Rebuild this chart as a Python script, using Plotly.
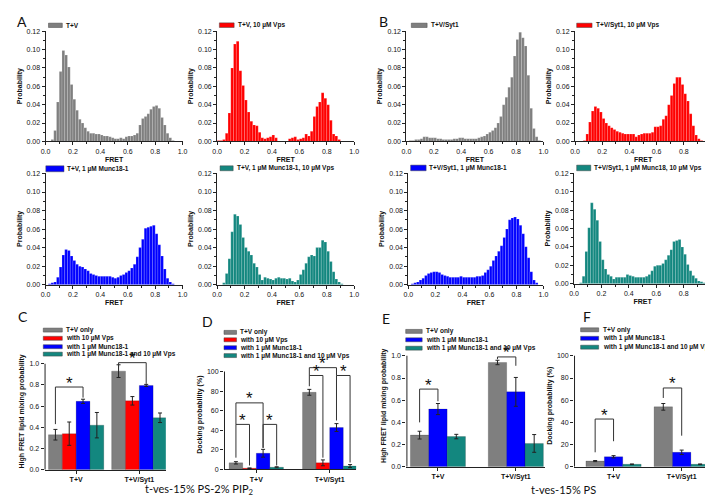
import plotly.graph_objects as go

W, H = 713, 497

# ---------------- data ----------------
fret_centers = [round(0.01 + 0.02 * i, 2) for i in range(50)]

p_TV = [0, 0, 0.002, 0.012, 0.043, 0.076, 0.099, 0.094, 0.081, 0.062,
        0.046, 0.034, 0.024, 0.020, 0.015, 0.011, 0.009, 0.009, 0.008, 0.008,
        0.007, 0.006, 0.006, 0.005, 0.004, 0.003, 0.003, 0.004, 0.003, 0.005,
        0.006, 0.006, 0.007, 0.009, 0.018, 0.025, 0.027, 0.030, 0.035, 0.038,
        0.039, 0.036, 0.026, 0.018, 0.009, 0.004, 0.001, 0, 0, 0]
p_TV_Vps = [0.001, 0.001, 0.002, 0.009, 0.031, 0.080, 0.106, 0.109, 0.077, 0.061,
            0.045, 0.032, 0.022, 0.018, 0.017, 0.010, 0.004, 0.003, 0.004, 0.005,
            0.007, 0.004, 0, 0, 0, 0, 0.003, 0.004, 0.005, 0.002,
            0.003, 0.004, 0.008, 0.006, 0.011, 0.027, 0.038, 0.043, 0.053, 0.047,
            0.040, 0.023, 0.008, 0.006, 0.002, 0, 0, 0, 0, 0]
p_TVSyt1 = [0, 0.001, 0.001, 0.002, 0.002, 0.003, 0.005, 0.005, 0.004, 0.004,
            0.004, 0.003, 0.003, 0.002, 0.002, 0.002, 0.002, 0.003, 0.003, 0.004,
            0.004, 0.003, 0.003, 0.003, 0.003, 0.003, 0.004, 0.005, 0.006, 0.008,
            0.010, 0.012, 0.015, 0.020, 0.027, 0.040, 0.048, 0.059, 0.070, 0.093,
            0.111, 0.119, 0.113, 0.104, 0.072, 0.036, 0.014, 0.005, 0.001, 0]
p_TVSyt1_Vps = [0, 0, 0, 0.001, 0.008, 0.021, 0.033, 0.038, 0.036, 0.032,
                0.025, 0.020, 0.017, 0.015, 0.013, 0.011, 0.010, 0.009, 0.008, 0.008,
                0.008, 0.008, 0.005, 0.007, 0.008, 0.009, 0.009, 0.009, 0.010, 0.016,
                0.016, 0.017, 0.024, 0.028, 0.040, 0.050, 0.063, 0.070, 0.070, 0.062,
                0.052, 0.044, 0.030, 0.017, 0.007, 0.003, 0.001, 0, 0, 0]
p_TV_M = [0, 0.001, 0.002, 0.003, 0.008, 0.019, 0.032, 0.038, 0.037, 0.031,
          0.026, 0.022, 0.020, 0.019, 0.017, 0.015, 0.012, 0.011, 0.010, 0.009,
          0.009, 0.009, 0.009, 0.009, 0.008, 0.007, 0.008, 0.010, 0.011, 0.013,
          0.015, 0.018, 0.022, 0.030, 0.040, 0.049, 0.061, 0.062, 0.063, 0.064,
          0.055, 0.043, 0.031, 0.017, 0.007, 0.003, 0.001, 0, 0, 0]
p_TV_M_Vps = [0, 0, 0.002, 0.012, 0.028, 0.057, 0.076, 0.074, 0.065, 0.051,
              0.040, 0.036, 0.032, 0.023, 0.019, 0.011, 0.005, 0.008, 0.007, 0.006,
              0.005, 0.007, 0.008, 0.007, 0.007, 0.006, 0.007, 0.004, 0.003, 0.005,
              0.011, 0.016, 0.023, 0.030, 0.032, 0.031, 0.040, 0.040, 0.048, 0.046,
              0.036, 0.025, 0.014, 0.006, 0.003, 0.001, 0, 0, 0, 0]
p_TVSyt1_M = [0, 0.001, 0.002, 0.003, 0.005, 0.007, 0.010, 0.012, 0.013, 0.014,
              0.014, 0.013, 0.011, 0.010, 0.009, 0.008, 0.008, 0.008, 0.008, 0.009,
              0.008, 0.008, 0.008, 0.008, 0.008, 0.009, 0.009, 0.010, 0.013, 0.016,
              0.020, 0.026, 0.031, 0.036, 0.042, 0.051, 0.060, 0.070, 0.072, 0.073,
              0.071, 0.064, 0.055, 0.041, 0.029, 0.014, 0.005, 0.002, 0, 0]
p_TVSyt1_M_Vps = [0, 0, 0.001, 0.008, 0.035, 0.061, 0.088, 0.081, 0.069, 0.046,
                  0.026, 0.016, 0.010, 0.008, 0.005, 0.007, 0.007, 0.007, 0.007, 0.010,
                  0.009, 0.008, 0.007, 0.007, 0.007, 0.007, 0.008, 0.010, 0.014, 0.019,
                  0.020, 0.020, 0.022, 0.026, 0.031, 0.037, 0.046, 0.047, 0.048, 0.040,
                  0.032, 0.021, 0.014, 0.009, 0.006, 0.003, 0.002, 0.001, 0.002, 0.001]

groups = ["T+V", "T+V/Syt1"]

C_only = [0.33, 0.93];      C_only_err = [0.05, 0.06]
C_vps = [0.34, 0.65];       C_vps_err = [0.11, 0.04]
C_munc = [0.645, 0.795];    C_munc_err = [0.02, 0.01]
C_munc_vps = [0.42, 0.49];  C_munc_vps_err = [0.12, 0.045]

D_only = [6.7, 78.8];       D_only_err = [1.2, 3.0]
D_vps = [1.2, 6.7];         D_vps_err = [0.3, 3.0]
D_munc = [16.5, 42.8];      D_munc_err = [4.0, 4.0]
D_munc_vps = [2.2, 3.4];    D_munc_vps_err = [0.5, 1.5]

E_only = [0.285, 0.94];     E_only_err = [0.035, 0.02]
E_munc = [0.52, 0.675];     E_munc_err = [0.05, 0.13]
E_munc_vps = [0.272, 0.21]; E_munc_vps_err = [0.02, 0.08]

F_only = [5.1, 54.0];       F_only_err = [0.5, 3.0]
F_munc = [9.0, 13.0];       F_munc_err = [1.0, 2.0]
F_munc_vps = [2.2, 2.2];    F_munc_vps_err = [0.3, 0.3]

# brackets: (group, bar_i, bar_j, top, leg_i_end, leg_j_end)
C_brackets = [(0, 0, 2, 0.78, 0.43, 0.68), (1, 0, 2, 1.01, 0.97, 0.81)]
D_brackets = [(0, 0, 1, 46, 12, 4), (0, 2, 3, 46, 22, 4), (0, 0, 2, 68, 46, 22),
              (1, 0, 1, 96, 85, 12), (1, 2, 3, 96, 50, 7), (1, 0, 2, 104, 96, 96)]
E_brackets = [(0, 0, 1, 0.70, 0.40, 0.59), (1, 0, 1, 0.99, 0.97, 0.91)]
F_brackets = [(0, 0, 1, 43, 13, 23), (1, 0, 1, 71, 62, 28)]

# ---------------- style ----------------
GRAY, RED, BLUE, TEAL = "#7f7f7f", "#ff0000", "#0000ff", "#13877f"
FONT = "Arial, Liberation Sans, sans-serif"
CAPFONT = "Lato, Open Sans, sans-serif"
tickfont = dict(family=FONT, size=7, color="#111")
titlefont = dict(family=FONT, size=7, color="#111")

fig = go.Figure()
lay = {}
shapes = []
annos = []


def ids(k):
    s = "" if k == 1 else str(k)
    return "x" + s, "y" + s, "xaxis" + s, "yaxis" + s


def dom_x(a, b):
    return [a / W, b / W]


def dom_y(top, bottom):
    return [1 - bottom / H, 1 - top / H]


def base_axis():
    return dict(showgrid=False, zeroline=False, showline=True, linecolor="#222",
                linewidth=1, ticks="outside", ticklen=3, tickwidth=1,
                tickcolor="#222", tickfont=tickfont)


def swatch(x0, x1, y0, y1, color):
    shapes.append(dict(type="rect", xref="paper", yref="paper",
                       x0=x0 / W, x1=x1 / W, y0=1 - y1 / H, y1=1 - y0 / H,
                       fillcolor=color, line=dict(width=0.5, color="#444")))


def label(x, y, text, size=6.5):
    annos.append(dict(xref="paper", yref="paper", x=x / W, y=1 - y / H,
                      text="<b>" + text + "</b>", showarrow=False,
                      xanchor="left", yanchor="middle",
                      font=dict(family=FONT, size=size, color="#111")))


# ---------------- histograms ----------------
hist_panels = [
    (p_TV, GRAY, "T+V", (33, 172, 20, 132), (36, 50, 12.3, 16.7), 52),
    (p_TV_Vps, RED, "T+V, 10 µM Vps", (207, 346, 20, 132), (209.3, 224.3, 12, 16.7), 226),
    (p_TVSyt1, GRAY, "T+V/Syt1", (399, 538, 20, 132), (404, 420, 12.3, 16.7), 421.5),
    (p_TVSyt1_Vps, RED, "T+V/Syt1, 10 µM Vps", (570, 708, 20, 132), (571.7, 587.3, 12.3, 16.7), 589),
    (p_TV_M, BLUE, "T+V, 1 µM Munc18-1", (33, 172, 164, 277), (33.3, 51.7, 156.7, 162.7), 53),
    (p_TV_M_Vps, TEAL, "T+V, 1 µM Munc18-1, 10 µM Vps", (207, 346, 164, 277), (210, 223.3, 156.7, 161.7), 225),
    (p_TVSyt1_M, BLUE, "T+V/Syt1, 1 µM Munc18-1", (401, 538, 164, 277), (403.3, 419, 156, 161.7), 419.5),
    (p_TVSyt1_M_Vps, TEAL, "T+V/Syt1, 1 µM Munc18, 10 µM Vps", (569, 708, 164, 276), (571.7, 586, 156, 161.7), 587.5),
]

k = 0
for vals, color, name, (xl, xr, yt, yb), sw, tx in hist_panels:
    k += 1
    xid, yid, xn, yn = ids(k)
    fig.add_trace(go.Bar(x=fret_centers, y=vals, width=0.02, xaxis=xid, yaxis=yid,
                         marker=dict(color=color, line=dict(color="rgba(255,255,255,0.55)", width=0.3)),
                         showlegend=False, hoverinfo="skip"))
    ax = base_axis()
    ax.update(domain=dom_x(xl, xr), range=[0, 1.0], anchor=yid, tick0=0, dtick=0.2,
              tickformat=".1f",
              minor=dict(tick0=0, dtick=0.1, ticks="outside", ticklen=2, tickcolor="#222"),
              title=dict(text="<b>FRET</b>", font=titlefont, standoff=3))
    ay = base_axis()
    ay.update(domain=dom_y(yt, yb), range=[0, 0.1205], anchor=xid, tick0=0, dtick=0.02,
              tickformat=".2f",
              minor=dict(tick0=0, dtick=0.01, ticks="outside", ticklen=2, tickcolor="#222"),
              title=dict(text="<b>Probability</b>", font=titlefont, standoff=3))
    lay[xn] = ax
    lay[yn] = ay
    swatch(sw[0], sw[1], sw[2], sw[3], color)
    label(tx, (sw[2] + sw[3]) / 2, name)

# ---------------- bar charts ----------------
bar_panels = [
    dict(series=[(C_only, C_only_err, GRAY, "T+V only"),
                 (C_vps, C_vps_err, RED, "with 10 µM Vps"),
                 (C_munc, C_munc_err, BLUE, "with 1 µM Munc18-1"),
                 (C_munc_vps, C_munc_vps_err, TEAL, "with 1 µM Munc18-1 and 10 µM Vps")],
         dom=(32, 155, 346.3, 464.3), xr=[-0.5, 1.42], yr=[0, 1.1], ytop=1.0, dtick=0.2,
         fmt=".1f", title="High FRET lipid mixing probability", gw=0.875,
         leg=(30.7, 50, [323, 331.3, 339.8, 347.3], 52), brackets=C_brackets),
    dict(series=[(D_only, D_only_err, GRAY, "T+V only"),
                 (D_vps, D_vps_err, RED, "with 10 µM Vps"),
                 (D_munc, D_munc_err, BLUE, "with 1 µM Munc18-1"),
                 (D_munc_vps, D_munc_vps_err, TEAL, "with 1 µM Munc18-1 and 10 µM Vps")],
         dom=(214, 348, 353.1, 464), xr=[-0.44, 1.36], yr=[0, 112], ytop=100, dtick=20,
         fmt="d", title="Docking probability (%)", gw=0.74,
         leg=(214, 226.7, [325.3, 332.8, 340.8, 348.8], 228.5), brackets=D_brackets),
    dict(series=[(E_only, E_only_err, GRAY, "T+V only"),
                 (E_munc, E_munc_err, BLUE, "with 1 µM Munc18-1"),
                 (E_munc_vps, E_munc_vps_err, TEAL, "with 1 µM Munc18-1 and 10 µM Vps")],
         dom=(399, 540, 337.8, 461.3), xr=[-0.405, 1.38], yr=[0, 1.1], ytop=1.0, dtick=0.2,
         fmt=".1f", title="High FRET lipid mixing probability", gw=0.707,
         leg=(398.3, 415, [324.3, 332.8, 341.3], 417), brackets=E_brackets),
    dict(series=[(F_only, F_only_err, GRAY, "T+V only"),
                 (F_munc, F_munc_err, BLUE, "with 1 µM Munc18-1"),
                 (F_munc_vps, F_munc_vps_err, TEAL, "with 1 µM Munc18-1 and 10 µM Vps")],
         dom=(569, 710, 337.8, 461.3), xr=[-0.58, 1.46], yr=[0, 110], ytop=100, dtick=20,
         fmt="d", title="Docking probability (%)", gw=0.81,
         leg=(575.7, 594, [322.7, 331.3, 340.3], 596), brackets=F_brackets),
]

for p in bar_panels:
    k += 1
    xid, yid, xn, yn = ids(k)
    n = len(p["series"])
    bw = p["gw"] / n
    for i, (vals, errs, color, name) in enumerate(p["series"]):
        fig.add_trace(go.Bar(x=groups, y=vals, width=bw, offset=-p["gw"] / 2 + i * bw,
                             xaxis=xid, yaxis=yid,
                             marker=dict(color=color, line=dict(color="rgba(0,0,0,0.35)", width=0.5)),
                             error_y=dict(type="data", array=errs, color="#222", thickness=1, width=2),
                             showlegend=False, hoverinfo="skip"))
        lx0, lx1, lys, ltx = p["leg"]
        swatch(lx0, lx1, lys[i] - 2.0, lys[i] + 2.0, color)
        label(ltx, lys[i], name)
    xl, xr, yt, yb = p["dom"]
    ax = base_axis()
    ax.update(domain=dom_x(xl, xr), range=p["xr"], anchor=yid, type="category",
              tickfont=dict(family=FONT, size=7, color="#111", weight="bold"))
    ay = base_axis()
    ay.update(domain=dom_y(yt, yb), range=p["yr"], anchor=xid, tick0=0, dtick=p["dtick"],
              tickformat=p["fmt"], showline=False,
              title=dict(text="<b>" + p["title"] + "</b>", font=titlefont, standoff=3))
    lay[xn] = ax
    lay[yn] = ay
    # y axis line only up to the last labelled tick
    shapes.append(dict(type="line", xref=xid, yref=yid, x0=p["xr"][0], x1=p["xr"][0],
                       y0=0, y1=p["ytop"], line=dict(color="#222", width=2)))
    # significance brackets
    for g, bi, bj, top, li, lj in p["brackets"]:
        xi = g - p["gw"] / 2 + (bi + 0.5) * bw
        xj = g - p["gw"] / 2 + (bj + 0.5) * bw
        shapes.append(dict(type="path", xref=xid, yref=yid,
                           path=f"M {xi},{li} L {xi},{top} L {xj},{top} L {xj},{lj}",
                           line=dict(color="#333", width=1)))
        annos.append(dict(xref=xid, yref=yid, x=(xi + xj) / 2, y=top, text="*",
                          showarrow=False, yanchor="middle", yshift=4,
                          font=dict(family=FONT, size=17, color="#111")))

# ---------------- panel letters & captions ----------------
for txt, x, y in [("A", 2, 0), ("B", 369, 0), ("C", 3, 299), ("D", 190, 304),
                  ("E", 372, 301), ("F", 576, 299)]:
    annos.append(dict(xref="paper", yref="paper", x=x / W, y=1 - y / H, text=txt,
                      showarrow=False, xanchor="left", yanchor="top",
                      font=dict(family=CAPFONT, size=14, color="#111")))

annos.append(dict(xref="paper", yref="paper", x=189.5 / W, y=1 - 484 / H,
                  text="t-ves-15% PS-2% PIP<sub>2</sub>", showarrow=False,
                  xanchor="center", yanchor="middle",
                  font=dict(family=CAPFONT, size=11, color="#111")))
annos.append(dict(xref="paper", yref="paper", x=558 / W, y=1 - 484 / H,
                  text="t-ves-15% PS", showarrow=False,
                  xanchor="center", yanchor="middle",
                  font=dict(family=CAPFONT, size=11, color="#111")))

fig.update_layout(width=W, height=H, autosize=False,
                  margin=dict(l=0, r=0, t=0, b=0),
                  paper_bgcolor="white", plot_bgcolor="white",
                  barmode="overlay", shapes=shapes, annotations=annos, **lay)

fig.write_html("out.html")
